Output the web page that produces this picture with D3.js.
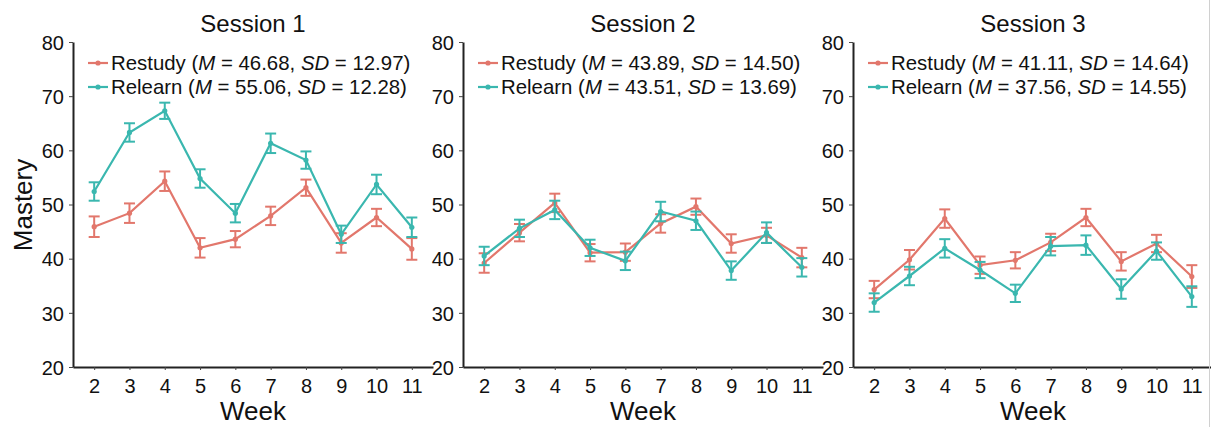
<!DOCTYPE html>
<html lang="en">
<head>
    <meta charset="UTF-8">
    <title>Mastery by week</title>
    <script src="https://d3js.org/d3.v7.min.js"></script>
    <style>
        body { margin: 0; background: #fff; }
        text { font-family: "Liberation Sans", Arial, sans-serif; fill: #111; }
    </style>
</head>
<body>
    <script>
        const weeks = [2, 3, 4, 5, 6, 7, 8, 9, 10, 11];
        const yTicks = [20, 30, 40, 50, 60, 70, 80];
        const sessions = ["Session 1", "Session 2", "Session 3"];

        // means and error bar half-widths
        const restudy1 = [45.9, 48.4, 54.3, 42.0, 43.6, 47.9, 53.1, 42.9, 47.6, 41.8];
        const restudy1Err = [1.9, 1.8, 1.8, 1.8, 1.5, 1.7, 1.5, 1.8, 1.6, 2.0];
        const relearn1 = [52.4, 63.3, 67.3, 54.8, 48.4, 61.3, 58.2, 44.5, 53.7, 45.8];
        const relearn1Err = [1.7, 1.7, 1.5, 1.7, 1.7, 1.8, 1.6, 1.6, 1.8, 1.8];

        const restudy2 = [39.2, 44.8, 50.3, 41.1, 41.2, 46.5, 49.6, 42.8, 44.3, 40.2];
        const restudy2Err = [1.8, 1.6, 1.7, 1.6, 1.6, 1.7, 1.5, 1.7, 1.4, 1.8];
        const relearn2 = [40.5, 45.6, 49.0, 42.0, 39.6, 48.7, 47.0, 37.8, 44.8, 38.4];
        const relearn2Err = [1.7, 1.6, 1.7, 1.5, 1.7, 1.8, 1.7, 1.7, 1.9, 1.7];

        const restudy3 = [34.3, 39.8, 47.4, 38.8, 39.7, 43.0, 47.6, 39.5, 42.8, 36.7];
        const restudy3Err = [1.6, 1.8, 1.7, 1.6, 1.5, 1.6, 1.6, 1.7, 1.6, 2.1];
        const relearn3 = [31.9, 36.8, 41.9, 37.9, 33.6, 42.3, 42.5, 34.4, 41.4, 33.0];
        const relearn3Err = [1.7, 1.7, 1.7, 1.5, 1.6, 1.7, 1.8, 1.8, 1.6, 1.9];

        const restudyStats = [["46.68", "12.97"], ["43.89", "14.50"], ["41.11", "14.64"]];
        const relearnStats = [["55.06", "12.28"], ["43.51", "13.69"], ["37.56", "14.55"]];

        const restudyColor = "#E2776C";
        const relearnColor = "#3AB7AF";

        const w = 1211;
        const h = 427;
        const panelLeft = [73, 463, 853];
        const panelW = 360;
        const plotTop = 42, plotBottom = 367;

        const svg = d3.select("body")
            .append("svg")
            .attr("width", w)
            .attr("height", h);

        const yScale = d3.scaleLinear().domain([20, 80]).range([plotBottom, plotTop]);

        const panels = [
            [[restudy1, restudy1Err], [relearn1, relearn1Err]],
            [[restudy2, restudy2Err], [relearn2, relearn2Err]],
            [[restudy3, restudy3Err], [relearn3, relearn3Err]]
        ];

        panels.forEach((series, p) => {
            const left = panelLeft[p];
            const xScale = d3.scalePoint()
                .domain(weeks)
                .range([left, left + panelW])
                .padding(0.6);

            const g = svg.append("g");

            // axes
            const xAxis = d3.axisBottom(xScale).tickSize(3).tickSizeOuter(0).tickPadding(6);
            const gx = g.append("g")
                .attr("transform", "translate(0," + plotBottom + ")")
                .call(xAxis);
            gx.selectAll("text").style("font-size", "20px").attr("dy", "0.85em");

            const yAxis = d3.axisLeft(yScale).tickValues(yTicks).tickSize(4).tickSizeOuter(0).tickPadding(5);
            const gy = g.append("g")
                .attr("transform", "translate(" + left + ",0)")
                .call(yAxis);
            gy.selectAll("text").style("font-size", "20px").attr("dy", "0.36em");

            [gx, gy].forEach(a => {
                a.select(".domain").attr("stroke", "#222").attr("stroke-width", 2);
                a.selectAll(".tick line").attr("stroke", "#444");
            });

            // title + x title
            g.append("text")
                .attr("x", left + panelW / 2)
                .attr("y", 32)
                .attr("text-anchor", "middle")
                .style("font-size", "24px")
                .text(sessions[p]);

            g.append("text")
                .attr("x", left + panelW / 2)
                .attr("y", 420)
                .attr("text-anchor", "middle")
                .style("font-size", "26px")
                .text("Week");

            // series: restudy first, relearn on top
            series.forEach(([vals, errs], s) => {
                const color = s === 0 ? restudyColor : relearnColor;
                const pts = weeks.map((wk, i) => ({wk, v: vals[i], e: errs[i]}));

                g.append("path")
                    .datum(pts)
                    .attr("fill", "none")
                    .attr("stroke", color)
                    .attr("stroke-width", 2.2)
                    .attr("d", d3.line().x(d => xScale(d.wk)).y(d => yScale(d.v)));

                const eb = g.selectAll(null)
                    .data(pts)
                    .enter()
                    .append("g")
                    .attr("stroke", color)
                    .attr("stroke-width", 2);
                eb.append("line")
                    .attr("x1", d => xScale(d.wk)).attr("x2", d => xScale(d.wk))
                    .attr("y1", d => yScale(d.v - d.e)).attr("y2", d => yScale(d.v + d.e));
                eb.append("line")
                    .attr("x1", d => xScale(d.wk) - 5.5).attr("x2", d => xScale(d.wk) + 5.5)
                    .attr("y1", d => yScale(d.v + d.e)).attr("y2", d => yScale(d.v + d.e));
                eb.append("line")
                    .attr("x1", d => xScale(d.wk) - 5.5).attr("x2", d => xScale(d.wk) + 5.5)
                    .attr("y1", d => yScale(d.v - d.e)).attr("y2", d => yScale(d.v - d.e));

                g.selectAll(null)
                    .data(pts)
                    .enter()
                    .append("circle")
                    .attr("cx", d => xScale(d.wk))
                    .attr("cy", d => yScale(d.v))
                    .attr("r", 2.6)
                    .attr("fill", color);
            });

            // legend
            const legend = [
                ["Restudy", restudyStats[p], restudyColor, 63],
                ["Relearn", relearnStats[p], relearnColor, 87]
            ];
            legend.forEach(([name, st, color, ly]) => {
                const kx = left + 15;
                g.append("line")
                    .attr("x1", kx).attr("x2", kx + 20)
                    .attr("y1", ly).attr("y2", ly)
                    .attr("stroke", color).attr("stroke-width", 2.2);
                g.append("circle")
                    .attr("cx", kx + 10).attr("cy", ly).attr("r", 2.6).attr("fill", color);
                const t = g.append("text")
                    .attr("x", kx + 23)
                    .attr("y", ly)
                    .attr("dy", "0.36em")
                    .style("font-size", "20.4px");
                t.append("tspan").text(name + " (");
                t.append("tspan").style("font-style", "italic").text("M");
                t.append("tspan").text(" = " + st[0] + ", ");
                t.append("tspan").style("font-style", "italic").text("SD");
                t.append("tspan").text(" = " + st[1] + ")");
            });
        });

        svg.append("text")
            .attr("transform", "translate(32,205) rotate(-90)")
            .attr("text-anchor", "middle")
            .style("font-size", "26px")
            .text("Mastery");

        // faint border on the right edge of the original image
        svg.append("line")
            .attr("x1", 1209.5).attr("x2", 1209.5)
            .attr("y1", 0).attr("y2", h)
            .attr("stroke", "#d0d0d0")
            .attr("stroke-width", 1);
    </script>
</body>
</html>
